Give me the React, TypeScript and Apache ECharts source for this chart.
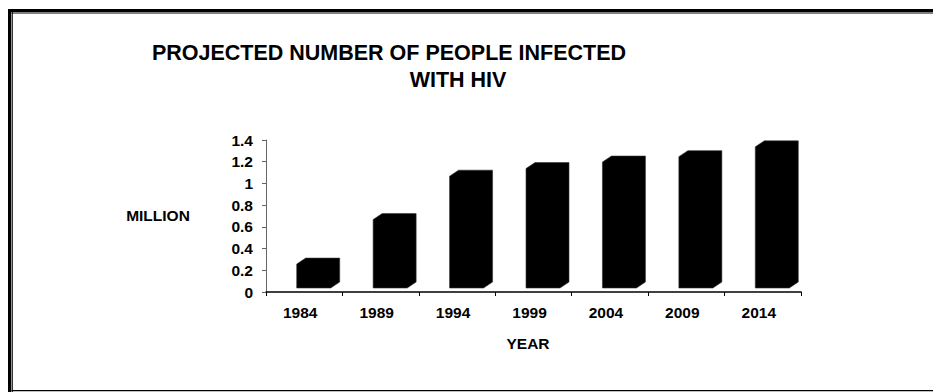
import React, { useEffect, useRef } from "react";
import * as echarts from "echarts";

const years = ["1984", "1989", "1994", "1999", "2004", "2009", "2014"];
const millions = [0.22, 0.63, 1.03, 1.1, 1.16, 1.21, 1.3];
const yMin = 0;
const yMax = 1.4;
const yStep = 0.2;
const titleLine1 = "PROJECTED NUMBER OF PEOPLE INFECTED";
const titleLine2 = "WITH HIV";
const yAxisTitle = "MILLION";
const xAxisTitle = "YEAR";

const FONT = "'Liberation Sans', Arial, Helvetica, sans-serif";

export default function App() {
  const ref = useRef<HTMLDivElement>(null);
  useEffect(() => {
    if (!ref.current) return;
    const chart = echarts.init(ref.current, undefined, { renderer: "svg" });
    const option: any = {
      animation: false,
      backgroundColor: "#ffffff",
      grid: { left: 266, right: 132, top: 140, bottom: 100 },
      xAxis: {
        type: "category",
        data: years,
        boundaryGap: true,
        axisLine: { show: true, lineStyle: { color: "#000", width: 1.5 } },
        axisTick: { show: true, length: 4, lineStyle: { color: "#000", width: 1 } },
        axisLabel: {
          color: "#000",
          fontFamily: FONT,
          fontWeight: "bold",
          fontSize: 15.5,
          margin: 12,
          padding: [0, 8, 0, 0],
        },
      },
      yAxis: {
        type: "value",
        min: yMin,
        max: yMax,
        interval: yStep,
        splitLine: { show: false },
        axisLine: { show: true, lineStyle: { color: "#666", width: 1 } },
        axisTick: { show: true, length: 4, lineStyle: { color: "#666", width: 1 } },
        axisLabel: {
          color: "#000",
          fontFamily: FONT,
          fontWeight: "bold",
          fontSize: 15.5,
          margin: 13,
        },
      },
      series: [
        {
          type: "custom",
          encode: { x: 0, y: 1 },
          data: millions.map((v, i) => [i, v]),
          renderItem: (params: any, api: any) => {
            const idx = api.value(0);
            const v = api.value(1);
            const base = api.coord([idx, 0]);
            const top = api.coord([idx, v]);
            const L = base[0] - 7.5;
            const yb = base[1] - 4;
            const yt = top[1] - 4;
            const dx = 9;
            const dy = 6;
            const fw = 34;
            return {
              type: "polygon",
              shape: {
                points: [
                  [L, yb],
                  [L, yt],
                  [L + dx, yt - dy],
                  [L + fw + dx, yt - dy],
                  [L + fw + dx, yb - dy],
                  [L + fw, yb],
                ],
              },
              style: { fill: "#000", stroke: "#333", lineWidth: 0.6 },
            };
          },
        },
      ],
      graphic: [
        // frame
        { type: "rect", shape: { x: 8, y: 9, width: 3, height: 383 }, style: { fill: "#000" }, silent: true },
        { type: "rect", shape: { x: 8, y: 9, width: 925, height: 3 }, style: { fill: "#000" }, silent: true },
        { type: "rect", shape: { x: 11.6, y: 12, width: 1.2, height: 380 }, style: { fill: "#000" }, silent: true },
        { type: "rect", shape: { x: 11.6, y: 12.4, width: 922, height: 1 }, style: { fill: "#000" }, silent: true },
        { type: "rect", shape: { x: 11.6, y: 390, width: 922, height: 1.2 }, style: { fill: "#000" }, silent: true },
        {
          type: "text",
          x: 389,
          y: 52.5,
          style: {
            text: titleLine1,
            fill: "#000",
            font: `bold 21.5px ${FONT}`,
            textAlign: "center",
            textVerticalAlign: "middle",
          },
        },
        {
          type: "text",
          x: 458,
          y: 79.5,
          style: {
            text: titleLine2,
            fill: "#000",
            font: `bold 21.5px ${FONT}`,
            textAlign: "center",
            textVerticalAlign: "middle",
          },
        },
        {
          type: "text",
          x: 158,
          y: 215,
          style: {
            text: yAxisTitle,
            fill: "#000",
            font: `bold 15.5px ${FONT}`,
            textAlign: "center",
            textVerticalAlign: "middle",
          },
        },
        {
          type: "text",
          x: 528,
          y: 343,
          style: {
            text: xAxisTitle,
            fill: "#000",
            font: `bold 15.5px ${FONT}`,
            textAlign: "center",
            textVerticalAlign: "middle",
          },
        },
      ],
    };
    chart.setOption(option);
    return () => chart.dispose();
  }, []);
  return (
    <div
      ref={ref}
      style={{ position: "fixed", left: 0, top: 0, width: 933, height: 392 }}
    />
  );
}
